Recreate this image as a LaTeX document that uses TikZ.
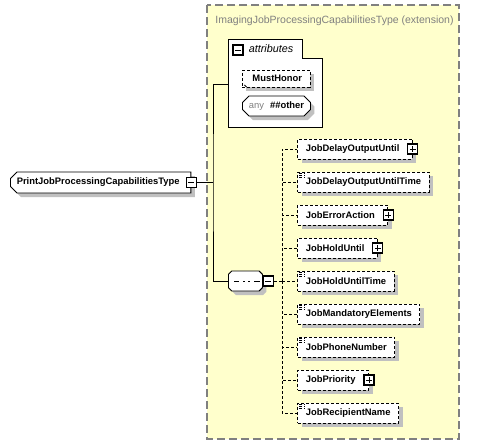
\documentclass[tikz,border=0pt]{standalone}
\usepackage{fontspec}
\setmainfont{Liberation Sans}
\usetikzlibrary{shapes.misc,shadows,arrows.meta}
\definecolor{extyellow}{RGB}{255,255,204}
\definecolor{extborder}{RGB}{128,128,128}
\definecolor{shadegray}{RGB}{192,192,192}
\definecolor{greytext}{RGB}{128,128,128}
\newcommand{\elemfont}{\fontsize{9.4pt}{11pt}\selectfont\bfseries}

\begin{document}
\begin{tikzpicture}[
		x=1pt, y=-1pt,
		line width=0.9pt,
		grow'=right,
		level distance=52pt,
		sibling distance=33pt,
		edge from parent/.style={draw, dash pattern=on 3pt off 2pt},
		edge from parent path={(branch) |- (\tikzchildnode.west)},
		every node/.style={anchor=west, font=\elemfont},
		shade/.style={drop shadow={shadow xshift=4pt, shadow yshift=-4pt, fill=shadegray, opacity=1}},
		elem/.style={draw, dash pattern=on 3pt off 2pt, fill=white, shade, minimum height=20pt, inner xsep=8pt, inner ysep=0pt},
		haskids/.style={execute at end node={\hspace{5pt}}},
		simple/.style={path picture={\foreach \k in {0,2,4} \draw[line width=0.7pt] ([shift={(1.5pt,-1.5pt)}]path picture bounding box.north west) ++(0,\k) -- ++(5.5pt,0pt);}},
		refmark/.style={path picture={\draw[line width=0.8pt, -{Stealth[length=3pt,width=3pt]}] ([shift={(2pt,2pt)}]path picture bounding box.south west) -- ++(5pt,-5pt);}},
		octo/.style={chamfered rectangle, chamfered rectangle xsep=3pt, draw, fill=white, shade, inner ysep=0pt},
		seqicon/.style={path picture={\draw[line width=1pt] ([xshift=6pt]path picture bounding box.west) -- ([xshift=-2pt]path picture bounding box.east); \foreach \k in {-4.5pt,1pt,6.5pt} \fill ([xshift=\k]path picture bounding box.center) +(-1.8pt,-1.8pt) rectangle +(1.8pt,1.8pt);}},
		toggle/.style={draw, fill=white, line width=1.1pt, minimum size=10pt, inner sep=0pt, anchor=center},
		minus/.style={toggle, path picture={\draw[line width=0.8pt] ([xshift=2pt]path picture bounding box.west) -- ([xshift=-2pt]path picture bounding box.east);}},
		plus/.style={toggle, path picture={\draw[line width=0.8pt] ([xshift=2pt]path picture bounding box.west) -- ([xshift=-2pt]path picture bounding box.east) ([yshift=-2pt]path picture bounding box.north) -- ([yshift=2pt]path picture bounding box.south);}}
	]
		\useasboundingbox (0,0) rectangle (495,445);
		\draw[draw=extborder, line width=1.5pt, dash pattern=on 8pt off 4pt, fill=extyellow] (207,5) rectangle (459,439);
		\node[anchor=base west, inner sep=0pt, text=greytext, font=\fontsize{10.5pt}{12pt}\selectfont] (exttitle) at (215,23) {ImagingJobProcessingCapabilitiesType (extension)};

		\draw[fill=white] (228,127) |- (302,39) |- (322,58) -- (322,127) -- cycle;
		\node[minus] (attrtog) at (238,50) {};
		\node[font=\fontsize{10.8pt}{12pt}\selectfont\itshape] (attrlbl) at (245,49) {attributes};
		\node[elem, refmark, minimum height=17pt, execute at begin node={\hspace{2pt}}] (must) at (242,78.5) {MustHonor};
		\node[octo, minimum width=68pt, minimum height=20pt] (anyattr) at (242,106) {\textcolor{greytext}{\mdseries any}\hspace{6pt}\#\#other};

		\node[octo, chamfered rectangle corners={north west,south west}, minimum height=21pt, haskids] (root) at (10,182.5) {PrintJobProcessingCapabilitiesType};
		\node[minus] (roottog) at (root.east) {};
		\coordinate (fork) at (213,182.5);
		\coordinate (attrin) at (228,84);
		\coordinate (branch) at (282,281);
		\draw (roottog.east) -- (fork);
		\draw (attrin) -| (fork) |- (228,281);

		\node[octo, minimum width=34pt, minimum height=20pt, seqicon] (seq) at (228,281) {}
			child { node[elem, haskids] (dou) {JobDelayOutputUntil} }
			child { node[elem, simple] (dout) {JobDelayOutputUntilTime} }
			child { node[elem, haskids] (err) {JobErrorAction} }
			child { node[elem, haskids] (hold) {JobHoldUntil} }
			child { node[elem, simple] (holdt) {JobHoldUntilTime} }
			child { node[elem, simple] (mand) {JobMandatoryElements} }
			child { node[elem, simple] (phone) {JobPhoneNumber} }
			child { node[elem, haskids] (prio) {JobPriority} }
			child { node[elem, simple] (recip) {JobRecipientName} };
		\node[minus, anchor=west] (seqtog) at (seq.east) {};
		\draw[dash pattern=on 3pt off 2pt] (seqtog.east) -- (branch);
		\foreach \n in {dou,err,hold,prio}
			\node[plus] (\n-tog) at (\n.east) {};
	\end{tikzpicture}
\end{document}
